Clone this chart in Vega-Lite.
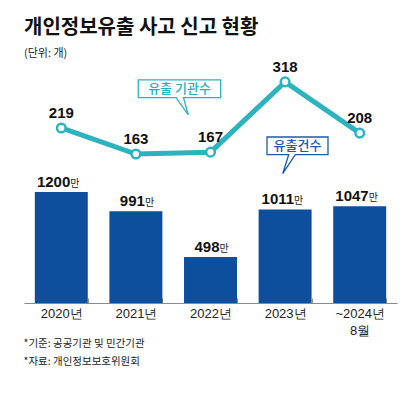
{
  "$schema": "https://vega.github.io/schema/vega-lite/v6.json",
  "width": 373,
  "height": 243,
  "autosize": {"type": "none"},
  "padding": {"left": 24, "top": 60, "right": 23, "bottom": 90},
  "background": "white",
  "title": {
    "text": "개인정보유출 사고 신고 현황",
    "subtitle": "(단위: 개)",
    "anchor": "start",
    "frame": "group",
    "font": "Noto Sans CJK KR",
    "fontSize": 20,
    "fontWeight": "bold",
    "color": "#111111",
    "subtitleFont": "Noto Sans CJK KR",
    "subtitleFontSize": 11,
    "subtitleColor": "#222222",
    "subtitlePadding": 10,
    "offset": 1
  },
  "config": {"view": {"stroke": null}},
  "data": {
    "values": [
      {"year": "2020년", "cases": 1200, "orgs": 219},
      {"year": "2021년", "cases": 991, "orgs": 163},
      {"year": "2022년", "cases": 498, "orgs": 167, "note": "유출 기관수"},
      {"year": "2023년", "cases": 1011, "orgs": 318, "note": "유출건수"},
      {"year": "~2024년 8월", "cases": 1047, "orgs": 208}
    ]
  },
  "encoding": {
    "x": {
      "field": "year",
      "type": "nominal",
      "sort": null,
      "scale": {"paddingInner": 0.29, "paddingOuter": 0.145},
      "axis": {
        "labelAngle": 0,
        "labelExpr": "split(datum.label, ' ')",
        "labelFont": "Liberation Sans",
        "labelFontSize": 13,
        "labelColor": "#222222",
        "labelPadding": 9,
        "labelLineHeight": 17,
        "domainColor": "#8a8a8a",
        "tickColor": "#8a8a8a",
        "tickSize": -5,
        "tickBand": "extent",
        "title": ["*기준: 공공기관 및 민간기관", "*자료: 개인정보보호위원회"],
        "titleX": -1,
        "titleY": 35,
        "titleAnchor": "start",
        "titleAlign": "left",
        "titleBaseline": "top",
        "titleFont": "Noto Sans CJK KR",
        "titleFontSize": 10.5,
        "titleFontWeight": "normal",
        "titleColor": "#222222",
        "titleLineHeight": 18
      }
    }
  },
  "layer": [
    {
      "encoding": {
        "y": {"field": "cases", "type": "quantitative", "scale": {"domain": [0, 2627]}, "axis": null}
      },
      "layer": [
        {"mark": {"type": "bar", "color": "#0d4f9d"}},
        {
          "mark": {"type": "text", "align": "right", "baseline": "alphabetic", "dx": 9, "dy": -5, "font": "Liberation Sans", "fontSize": 15, "fontWeight": "bold", "color": "#111111"},
          "encoding": {"text": {"field": "cases", "type": "quantitative"}}
        },
        {
          "mark": {"type": "text", "align": "left", "baseline": "alphabetic", "dx": 9, "dy": -5, "font": "Noto Sans CJK KR", "fontSize": 10, "color": "#222222", "text": "만"}
        }
      ]
    },
    {
      "encoding": {
        "y": {"field": "orgs", "type": "quantitative", "scale": {"domain": [-157, 365]}, "axis": null}
      },
      "layer": [
        {"mark": {"type": "line", "color": "#2cb3bd", "strokeWidth": 5}, "encoding": {}},
        {"mark": {"type": "point", "filled": true, "fill": "white", "stroke": "#2cb3bd", "strokeWidth": 2.5, "size": 75, "opacity": 1}},
        {
          "mark": {"type": "text", "align": "center", "baseline": "alphabetic", "dy": -10, "font": "Liberation Sans", "fontSize": 15, "fontWeight": "bold", "color": "#111111"},
          "encoding": {"text": {"field": "orgs", "type": "quantitative"}}
        },
        {
          "transform": [{"filter": "datum.note == '유출 기관수'"}],
          "mark": {"type": "point", "shape": "M-1.444,-1.444L0.204,-1.444L0.204,-1.09L-0.54,-1.09L-0.444,-0.744L-0.69,-1.09L-1.444,-1.09Z", "size": 10000, "filled": true, "fill": "white", "stroke": "#2cb3bd", "strokeWidth": 1.3, "opacity": 1}
        },
        {
          "transform": [{"filter": "datum.note == '유출 기관수'"}],
          "mark": {"type": "text", "align": "center", "baseline": "middle", "dx": -31, "dy": -63, "font": "Noto Sans CJK KR", "fontSize": 13, "fontWeight": 500, "color": "#2aafba"},
          "encoding": {"text": {"field": "note"}}
        },
        {
          "transform": [{"filter": "datum.note == '유출건수'"}],
          "mark": {"type": "point", "shape": "M-0.362,1.102L0.858,1.102L0.858,1.456L0.204,1.456L-0.048,1.836L0.072,1.456L-0.362,1.456Z", "size": 10000, "filled": true, "fill": "white", "stroke": "#1d5ba8", "strokeWidth": 1.3, "opacity": 1}
        },
        {
          "transform": [{"filter": "datum.note == '유출건수'"}],
          "mark": {"type": "text", "align": "center", "baseline": "middle", "dx": 12.4, "dy": 64, "font": "Noto Sans CJK KR", "fontSize": 13, "fontWeight": 500, "color": "#1d5ba8"},
          "encoding": {"text": {"field": "note"}}
        }
      ]
    }
  ],
  "resolve": {"scale": {"y": "independent"}}
}
